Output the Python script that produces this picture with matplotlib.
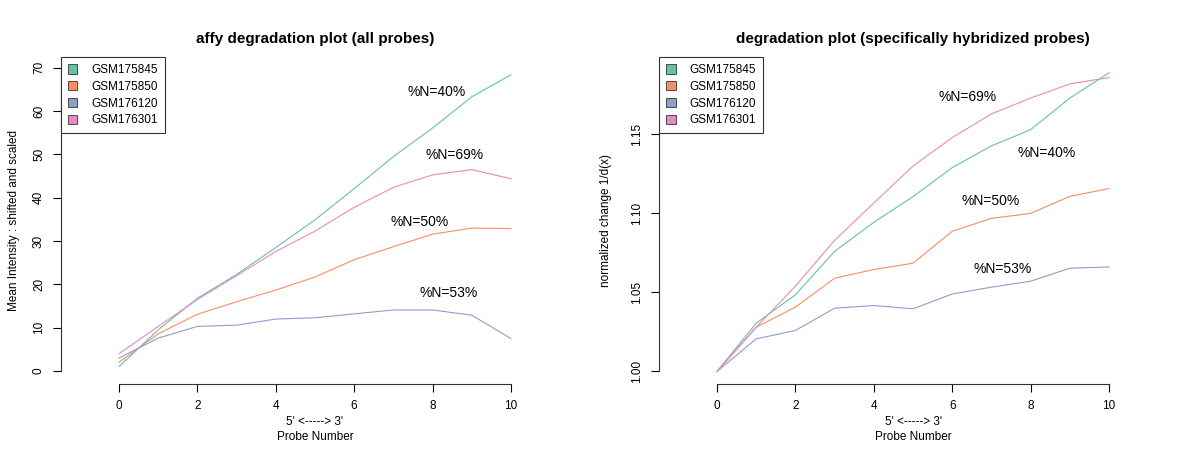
import matplotlib
matplotlib.use("Agg")
import matplotlib.pyplot as plt
from matplotlib.patches import Patch

plt.rcParams["font.family"] = ["Liberation Sans", "DejaVu Sans"]

probe = list(range(11))
samples = ["GSM175845", "GSM175850", "GSM176120", "GSM176301"]
colors = ["#66C2A5", "#FC8D62", "#8DA0CB", "#E78AC3"]

# left panel: mean intensity, shifted and scaled
all_175845 = [1.0, 9.5, 16.8, 22.3, 28.5, 34.9, 42.1, 49.5, 56.1, 63.3, 68.4]
all_175850 = [2.0, 8.6, 13.1, 16.0, 18.7, 21.7, 25.7, 28.7, 31.6, 33.0, 32.9]
all_176120 = [3.0, 7.6, 10.3, 10.6, 12.0, 12.3, 13.2, 14.1, 14.1, 12.9, 7.5]
all_176301 = [4.0, 10.3, 16.5, 22.0, 27.6, 32.3, 37.8, 42.4, 45.3, 46.5, 44.4]

# right panel: normalized change 1/d(x)
spec_175845 = [1.0, 1.0305, 1.0485, 1.076, 1.0944, 1.1106, 1.129, 1.1428, 1.153, 1.173, 1.189]
spec_175850 = [1.0, 1.028, 1.0407, 1.059, 1.0645, 1.0685, 1.0887, 1.0969, 1.100, 1.1108, 1.1157]
spec_176120 = [1.0, 1.0206, 1.0259, 1.040, 1.0417, 1.0396, 1.049, 1.0533, 1.0571, 1.0653, 1.0661]
spec_176301 = [1.0, 1.028, 1.054, 1.083, 1.1066, 1.130, 1.148, 1.163, 1.173, 1.182, 1.186]

labels_all = ["%N=40%", "%N=50%", "%N=53%", "%N=69%"]
labpos_all = [(8.1, 64.4), (7.66, 34.4), (8.4, 18.0), (8.55, 49.9)]
labels_spec = ["%N=40%", "%N=50%", "%N=53%", "%N=69%"]
labpos_spec = [(8.42, 1.138), (6.97, 1.1076), (7.28, 1.065), (6.39, 1.1734)]


def style_axes(ax, ylim, yticks, yfmt):
    ax.set_xlim(-1.48, 11.48)
    ax.set_ylim(*ylim)
    for s in ("top", "right"):
        ax.spines[s].set_visible(False)
    ax.spines["bottom"].set_bounds(0, 10)
    ax.spines["left"].set_bounds(yticks[0], yticks[-1])
    for s in ("bottom", "left"):
        ax.spines[s].set_linewidth(0.8)
        ax.spines[s].set_color("#333333")
    ax.set_xticks([0, 2, 4, 6, 8, 10])
    ax.set_yticks(yticks)
    ax.set_yticklabels([yfmt.format(v) for v in yticks], rotation=90, va="center")
    ax.tick_params(direction="out", length=5.5, width=0.8, labelsize=8.5, pad=6)
    ax.set_xlabel("5' <-----> 3'\nProbe Number", fontsize=8.5, labelpad=3,
                  linespacing=1.3)
    handles = [Patch(facecolor=c, edgecolor="#333333", linewidth=0.6) for c in colors]
    leg = ax.legend(handles, samples, loc="upper left", fontsize=8.5,
                    handlelength=0.8, handleheight=0.8, handletextpad=1.2,
                    borderaxespad=0.0, fancybox=False, framealpha=1,
                    edgecolor="#333333", labelspacing=0.4, borderpad=0.6)
    leg.get_frame().set_linewidth(0.8)


fig = plt.figure(figsize=(12, 4.57), dpi=100)
ax1 = fig.add_axes((0.0508, 0.1597, 0.4233, 0.7155))
ax2 = fig.add_axes((0.5492, 0.1597, 0.4233, 0.7155))

for vals, c in zip([all_175845, all_175850, all_176120, all_176301], colors):
    ax1.plot(probe, vals, color=c, lw=0.8)
for txt, (x, y) in zip(labels_all, labpos_all):
    ax1.text(x, y, txt, ha="center", va="center", fontsize=10)
style_axes(ax1, (-3.0, 72.5), [0, 10, 20, 30, 40, 50, 60, 70], "{:d}")
ax1.set_ylabel("Mean Intensity : shifted and scaled", fontsize=8.5, labelpad=9)
ax1.set_title("affy degradation plot (all probes)", fontsize=11, fontweight="bold", pad=10)

for vals, c in zip([spec_175845, spec_175850, spec_176120, spec_176301], colors):
    ax2.plot(probe, vals, color=c, lw=0.8)
for txt, (x, y) in zip(labels_spec, labpos_spec):
    ax2.text(x, y, txt, ha="center", va="center", fontsize=10)
style_axes(ax2, (0.992, 1.199), [1.00, 1.05, 1.10, 1.15], "{:.2f}")
ax2.set_ylabel("normalized change 1/d(x)", fontsize=8.5, labelpad=14)
ax2.set_title("degradation plot (specifically hybridized probes)", fontsize=11,
              fontweight="bold", pad=10)

fig.savefig("out.png", dpi=100, facecolor="white")
